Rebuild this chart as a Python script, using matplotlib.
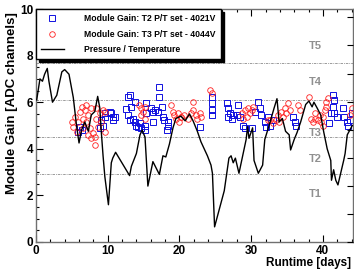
import matplotlib
matplotlib.use("Agg")
import matplotlib.pyplot as plt
from matplotlib.ticker import MultipleLocator

plt.rcParams["font.family"] = ["Liberation Sans", "DejaVu Sans"]
plt.rcParams["font.weight"] = "bold"

# pressure / temperature curve
pt_x = [0.1, 0.55, 0.9, 1.2, 1.57, 1.8, 2.3, 2.9, 3.6, 4.0, 4.6, 5.2, 5.65, 6.0,
        6.35, 6.8, 7.3, 7.7, 8.2, 8.6, 8.9, 9.1, 9.35, 9.6, 10.1, 10.5, 10.7, 11.1,
        13.05, 13.3, 14.0, 14.5, 14.8, 15.2, 15.6, 16.3, 17.2, 17.7, 18.1, 18.6,
        19.1, 19.5, 20.2, 20.8, 21.4, 21.9, 22.5, 23.0, 23.9, 24.4, 24.6, 24.9,
        26.25, 26.9, 27.2, 27.5, 27.8, 28.3, 29.3, 29.5, 29.7, 30.2, 30.4, 31.0,
        31.6, 31.9, 32.5, 33.2, 33.6, 33.9, 34.35, 34.8, 35.3, 35.5, 36.0, 36.4,
        36.9, 37.6, 38.05, 38.5, 38.75, 39.2, 39.7, 40.1, 40.6, 41.1, 41.2, 41.5,
        41.8, 42.1, 42.9, 43.1, 43.4, 44.1]
pt_y = [6.1, 7.0, 6.9, 7.2, 7.45, 6.9, 6.0, 6.3, 7.3, 7.4, 7.2, 6.2, 5.0, 4.25,
        4.8, 5.15, 4.75, 5.45, 5.6, 6.25, 5.75, 4.75, 3.7, 2.8, 1.6, 3.4, 3.6, 3.85,
        2.85, 3.25, 3.8, 4.6, 4.8, 4.5, 2.4, 3.45, 2.9, 3.7, 3.65, 4.2,
        4.9, 5.3, 5.4, 5.2, 5.5, 5.2, 4.75, 4.3, 3.7, 3.3, 2.95, 0.65,
        2.2, 3.6, 3.7, 3.4, 3.6, 2.95, 4.4, 4.95, 4.45, 4.9, 3.5, 2.95,
        3.3, 4.4, 5.0, 5.75, 6.15, 5.15, 5.3, 4.75, 4.6, 3.95, 4.4, 4.7,
        5.15, 5.9, 6.05, 5.8, 6.0, 5.75, 5.45, 4.75, 4.0, 3.5, 2.65, 3.1,
        2.65, 2.45, 3.5, 3.8, 4.6, 5.0]

# module gain, T2 P/T set
t2_x = [5.9, 6.1, 6.35, 8.9, 9.1, 9.35, 9.6, 9.6, 10.3, 10.5, 10.7, 10.7, 11.0,
        12.6, 12.8, 12.8, 13.1, 13.1, 13.3, 13.5, 13.8, 13.8, 14.0, 14.2, 14.5,
        14.7, 15.2, 15.2, 15.4, 15.4, 16.1, 16.3, 16.3, 16.6, 17.0, 17.2, 17.2,
        17.5, 17.7, 17.9, 18.2, 18.4, 18.4,
        22.9, 24.6, 24.6, 24.6, 24.6, 26.6, 26.8, 26.8, 27.0, 27.3, 27.5, 28.0,
        28.2, 28.4, 28.9, 29.2, 30.1, 30.5, 31.0, 31.2, 31.4, 31.9, 32.1, 32.3,
        32.6, 33.0, 35.9, 36.1, 36.3, 40.9, 41.2, 41.4, 41.4, 41.6, 41.6, 41.9,
        42.8, 43.0, 43.3, 43.5, 43.8, 44.0]
t2_y = [4.73, 4.95, 4.8, 4.88, 5.24, 5.0, 5.38, 5.54, 5.6, 5.52, 5.38, 5.24, 5.38,
        5.7, 6.24, 5.45, 6.3, 5.24, 5.8, 5.3, 5.16, 6.0, 5.0, 4.95, 5.1,
        4.88, 4.8, 5.0, 5.95, 5.52, 5.74, 5.16, 5.6, 5.67, 5.6, 6.67, 6.24,
        5.8, 5.38, 5.24, 4.8, 5.16, 5.0,
        4.95, 6.24, 5.95, 5.67, 5.45, 5.95, 5.74, 5.38, 5.52, 5.3, 5.45, 5.45,
        5.88, 5.38, 5.0, 4.88, 4.88, 5.6, 6.03, 5.74, 5.45, 5.16, 4.95, 5.38,
        5.0, 5.24, 5.38, 5.16, 5.0, 5.1, 5.52, 6.3, 5.8, 6.1, 5.52, 5.38,
        5.74, 5.38, 5.16, 5.0, 5.24, 5.52]

# module gain, T3 P/T set
t3_x = [5.0, 5.2, 5.4, 5.65, 5.9, 6.1, 6.35, 6.6, 6.6, 6.8, 7.0, 7.0, 7.3, 7.3,
        7.5, 7.7, 7.7, 8.0, 8.2, 8.2, 8.4, 8.4, 8.65, 8.9, 9.1, 9.35, 9.6, 9.6,
        14.4, 14.7, 14.7, 14.9, 15.2, 15.2, 18.8, 19.1, 19.3, 19.5, 19.8, 20.0,
        20.2, 20.2, 20.7, 21.2, 21.6, 21.9, 21.9, 22.3, 22.5, 22.8, 23.0, 24.3,
        24.5, 28.7, 28.9, 29.1, 29.4, 29.6, 29.8, 30.1, 30.3, 32.3, 32.6, 33.0,
        33.5, 33.8, 33.9, 34.2, 34.4, 34.7, 34.9, 35.2, 35.4, 36.6, 36.8, 38.05,
        38.4, 38.6, 38.9, 38.9, 39.3, 39.6, 39.8, 40.0, 40.0, 40.3, 40.5, 40.5,
        40.7, 43.8, 44.0]
t3_y = [5.16, 4.95, 5.38, 4.73, 5.16, 5.6, 5.8, 5.3, 4.88, 5.67, 5.16, 5.88, 5.45, 4.6,
        4.88, 5.74, 4.45, 4.66, 4.52, 4.16, 5.3, 5.74, 4.95, 5.52, 5.16, 5.67, 4.73, 5.6,
        5.88, 5.74, 5.45, 5.6, 5.8, 5.3, 5.88, 5.6, 5.45, 5.3, 5.52, 5.16,
        5.38, 5.38, 5.45, 5.3, 5.52, 5.67, 6.03, 5.45, 5.3, 5.52, 5.38, 6.52,
        6.38, 5.52, 5.3, 5.67, 5.38, 5.74, 5.52, 5.67, 5.8, 5.24, 5.24, 5.1,
        5.24, 5.45, 5.16, 5.6, 5.38, 5.74, 5.52, 5.95, 5.67, 5.88, 5.67, 6.24,
        5.3, 5.16, 5.3, 5.52, 5.24, 5.45, 5.16, 5.38, 5.0, 5.67, 6.03, 5.8,
        6.17, 5.45, 5.74]

# threshold levels and their labels
levels = [2.9, 4.5, 6.1, 7.7]
level_names = ["T1", "T2", "T3", "T4", "T5"]
level_name_y = [2.06, 3.56, 4.68, 6.85, 8.4]

fig = plt.figure(figsize=(3.54, 2.72), dpi=100)
ax = fig.add_axes([36 / 354, 1 - 242 / 272, 317 / 354, 233 / 272])

for lv in levels:
    ax.axhline(lv, color="#8c8c8c", lw=0.6, ls=(0, (3, 1.2, 1, 1.2)), zorder=1)
for name, yy in zip(level_names, level_name_y):
    ax.text(38.0, yy, name, color="#909090", fontsize=8, fontweight="bold",
            va="center", ha="left", zorder=1)

h2, = ax.plot(t2_x, t2_y, ls="none", marker="s", ms=4, mfc="none", mec="#1010e0",
              mew=0.7, label="Module Gain: T2 P/T set - 4021V", zorder=2)
h3, = ax.plot(t3_x, t3_y, ls="none", marker="o", ms=4, mfc="none", mec="#ff2020",
              mew=0.6, label="Module Gain: T3 P/T set - 4044V", zorder=3)
hl, = ax.plot(pt_x, pt_y, color="black", lw=1.0, label="Pressure / Temperature",
              zorder=4)

ax.set_xlim(0, 44.2)
ax.set_ylim(0, 10)
ax.xaxis.set_major_locator(MultipleLocator(10))
ax.xaxis.set_minor_locator(MultipleLocator(2))
ax.yaxis.set_major_locator(MultipleLocator(2))
ax.yaxis.set_minor_locator(MultipleLocator(0.5))
ax.tick_params(which="both", direction="in", top=True, right=False,
               labelsize=8.5, pad=2, width=0.8)
ax.tick_params(which="major", length=5)
ax.tick_params(which="minor", length=2.5)
for lab in ax.get_xticklabels() + ax.get_yticklabels():
    lab.set_fontweight("bold")
for sp in ax.spines.values():
    sp.set_color("#707070")
    sp.set_linewidth(1.0)

# right-hand scale ticks (no labels)
ax2 = ax.twinx()
ax2.set_ylim(0, 8.3)
ax2.yaxis.set_major_locator(MultipleLocator(1))
ax2.tick_params(axis="y", direction="in", length=4, labelright=False, width=0.8)
for sp in ax2.spines.values():
    sp.set_visible(False)

leg = ax.legend(handles=[h2, h3, hl], loc="upper left", bbox_to_anchor=(0, 1),
                borderaxespad=0, fontsize=6.2, frameon=True, fancybox=False,
                edgecolor="black", framealpha=1, labelspacing=0.75,
                handlelength=2.6, handletextpad=2.4, borderpad=0.6,
                shadow={"color": "black", "alpha": 1})
leg.get_frame().set_linewidth(1.0)
for t in leg.get_texts():
    t.set_fontweight("bold")
leg.set_zorder(10)

fig.text(12 / 354, 1 - 12 / 272, "Module Gain [ADC channels]", rotation=90,
         ha="center", va="top", fontsize=9.5, fontweight="bold")
fig.text(351 / 354, 1 - 263 / 272, "Runtime [days]", ha="right", va="center",
         fontsize=8.5, fontweight="bold")

fig.savefig("out.png", dpi=100)
